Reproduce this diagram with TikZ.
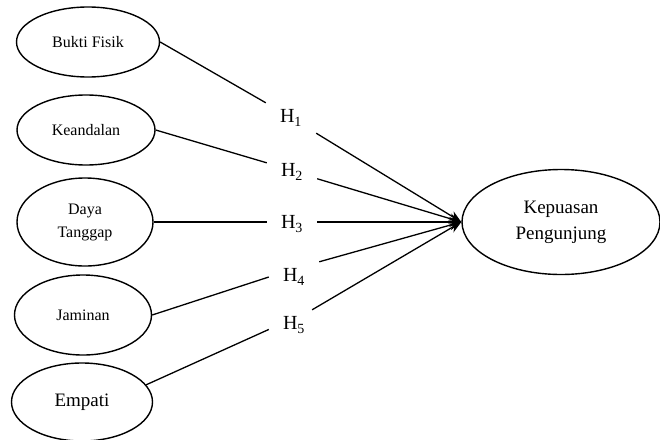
\documentclass[tikz,border=0pt]{standalone}
\usepackage{fontspec}
\setmainfont{Liberation Serif}
\usepackage{tikz}
\usetikzlibrary{positioning,shapes.geometric,arrows.meta}

\begin{document}
\begin{tikzpicture}[
x=1pt, y=-1pt,
variabel/.style={ellipse, draw=black, line width=1.4pt, inner sep=0pt, align=center, font=\fontsize{16}{23}\selectfont},
hipotesis/.style={rectangle, inner sep=0pt, minimum width=50pt, minimum height=30pt, font=\fontsize{20}{22}\selectfont},
garis/.style={draw=black, line width=1.3pt},
panah/.style={garis, -{Stealth[length=12pt,width=10pt]}}
]
\useasboundingbox (0,0) rectangle (660,439);

%Nodes
\node[variabel, minimum width=143pt, minimum height=70pt] (fisik) at (88,42) {Bukti Fisik};
\node[variabel, minimum width=138pt, minimum height=70pt] (andal) at (86,130) {Keandalan};
\node[variabel, minimum width=136pt, minimum height=88pt] (tanggap) at (85,222) {Daya\\Tanggap};
\node[variabel, minimum width=137pt, minimum height=80pt] (jaminan) at (83,315) {Jaminan};
\node[variabel, minimum width=141pt, minimum height=78pt, font=\fontsize{19}{21}\selectfont] (empati) at (82,402) {Empati};
\node[variabel, minimum width=198pt, minimum height=105pt, font=\fontsize{19}{26}\selectfont] (puas) at (561,222) {Kepuasan\\Pengunjung};

\node[hipotesis] (h1) at (291,118) {H\textsubscript{1}};
\node[hipotesis] (h2) at (292,172) {H\textsubscript{2}};
\node[hipotesis] (h3) at (292,224) {H\textsubscript{3}};
\node[hipotesis] (h4) at (294,277) {H\textsubscript{4}};
\node[hipotesis] (h5) at (294,325) {H\textsubscript{5}};

%Connections
\draw[garis] (fisik.east) -- (h1.north west);
\draw[garis] (andal.east) -- (h2.160);
\draw[garis] (tanggap.east) -- (tanggap.east -| h3.west);
\draw[garis] (jaminan.east) -- (h4.west);
\draw[garis] (empati.15) -- (h5.190);

\draw[panah] (h1.south east) -- (puas.west);
\draw[panah] (h2.-15) -- (puas.west);
\draw[panah] (puas.west -| h3.east) -- (puas.west);
\draw[panah] (h4.north east) -- (puas.west);
\draw[panah] (h5.40) -- (puas.west);
\end{tikzpicture}
\end{document}
